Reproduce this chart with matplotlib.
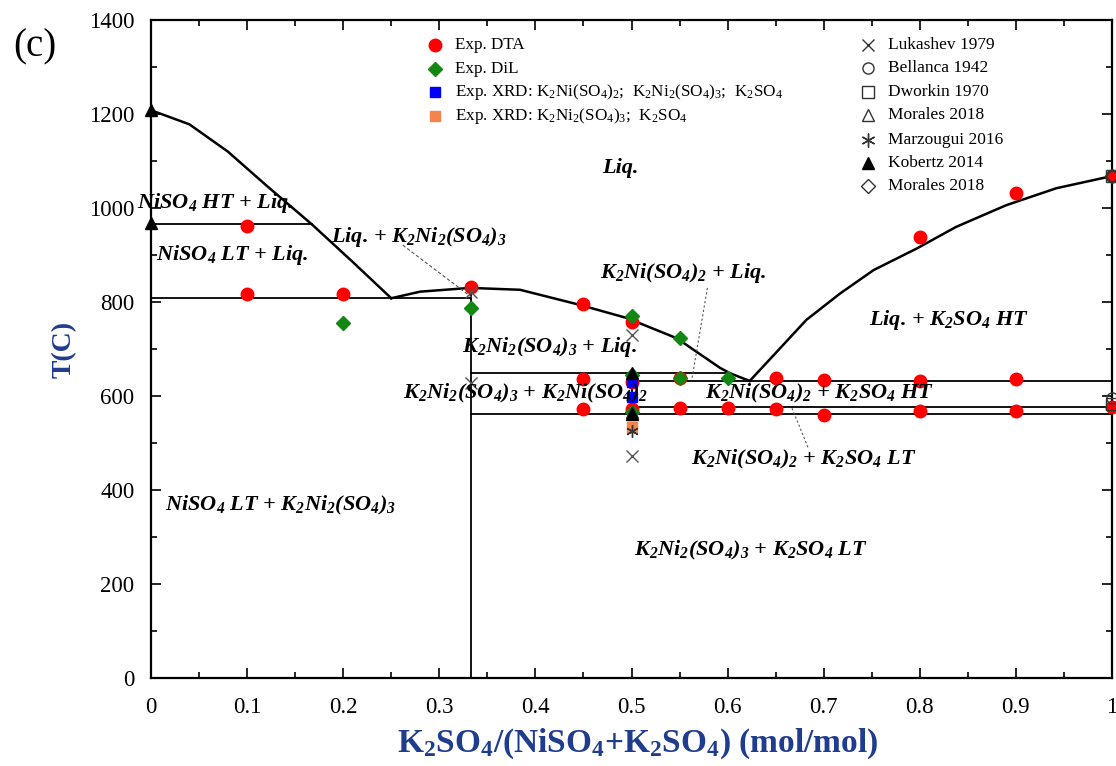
import matplotlib
matplotlib.use("Agg")
import matplotlib.pyplot as plt
from matplotlib.ticker import MultipleLocator

plt.rcParams['font.family'] = ['Liberation Serif', 'DejaVu Serif']
plt.rcParams['mathtext.fontset'] = 'custom'
plt.rcParams['mathtext.rm'] = 'Liberation Serif'
plt.rcParams['mathtext.it'] = 'Liberation Serif:italic'
plt.rcParams['mathtext.bf'] = 'Liberation Serif:bold'
plt.rcParams['mathtext.default'] = 'regular'

# ---------------- data ----------------
# calculated phase boundaries (liquidus curves)
liq_nis_x = [0.0, 0.04, 0.08, 0.12, 0.1675, 0.21, 0.25]
liq_nis_T = [1208, 1178, 1120, 1048, 965, 885, 808]
liq_mid_x = [0.25, 0.28, 0.332, 0.384, 0.446, 0.495, 0.547, 0.592, 0.603, 0.623]
liq_mid_T = [808, 822, 830, 826, 794, 766, 723, 660, 648, 632]
liq_k2_x = [0.623, 0.648, 0.682, 0.717, 0.752, 0.797, 0.838, 0.890, 0.942, 1.0]
liq_k2_T = [632, 687, 762, 818, 868, 914, 960, 1006, 1042, 1068]

# invariant / transition lines
hlines_x0 = [0.0, 0.0, 1/3, 0.5, 0.5, 1/3]
hlines_x1 = [0.1675, 1/3, 0.603, 1.0, 1.0, 1.0]
hlines_T = [965, 808, 648, 632, 577, 562]
# vertical compound lines
vlines_x = [1/3, 0.5]
vlines_T0 = [0, 562]
vlines_T1 = [830, 648]

# experimental points
dta_x = [0.1, 0.1, 0.2, 1/3, 0.45, 0.45, 0.45, 0.5, 0.5, 0.5, 0.55, 0.55, 0.6, 0.65, 0.65,
         0.7, 0.7, 0.8, 0.8, 0.8, 0.9, 0.9, 0.9, 1.0, 1.0]
dta_T = [962, 818, 818, 832, 796, 636, 573, 757, 630, 572, 638, 574, 574, 638, 572,
         634, 560, 938, 632, 568, 1031, 636, 568, 1068, 576]
dil_x = [0.2, 1/3, 0.5, 0.55, 0.5, 0.55, 0.6, 0.5]
dil_T = [755, 788, 770, 723, 645, 638, 638, 566]
xrd1_x = [0.5, 0.5]
xrd1_T = [630, 597]
xrd2_x = [0.5]
xrd2_T = [535]
lukashev_x = [1/3, 1/3, 0.5, 0.5]
lukashev_T = [822, 627, 730, 472]
bellanca_x = [1.0, 1.0]
bellanca_T = [1068, 596]
dworkin_x = [1.0, 1.0]
dworkin_T = [1068, 583]
morales_tri_x = [0.5]
morales_tri_T = [566]
marzougui_x = [0.5]
marzougui_T = [525]
kobertz_x = [0.0, 0.0, 0.5, 0.5]
kobertz_T = [1208, 968, 648, 562]
morales_dia_x = [1.0]
morales_dia_T = [1068]

x_ticks = [0, 0.1, 0.2, 0.3, 0.4, 0.5, 0.6, 0.7, 0.8, 0.9, 1]
x_ticklabels = ['0', '0.1', '0.2', '0.3', '0.4', '0.5', '0.6', '0.7', '0.8', '0.9', '1']
y_ticks = [0, 200, 400, 600, 800, 1000, 1200, 1400]

# ---------------- figure ----------------
fig = plt.figure(figsize=(11.16, 7.66), dpi=100)
ax = fig.add_axes([151 / 1116, 88 / 766, 961 / 1116, 658 / 766])

lc = 'black'
ax.plot(liq_nis_x, liq_nis_T, color=lc, lw=1.8, zorder=2)
ax.plot(liq_mid_x, liq_mid_T, color=lc, lw=1.8, zorder=2)
ax.plot(liq_k2_x, liq_k2_T, color=lc, lw=1.8, zorder=2)
for x0, x1, t in zip(hlines_x0, hlines_x1, hlines_T):
    ax.plot([x0, x1], [t, t], color=lc, lw=1.3, zorder=2)
for x, t0, t1 in zip(vlines_x, vlines_T0, vlines_T1):
    ax.plot([x, x], [t0, t1], color=lc, lw=1.3, zorder=2)

# leader lines
ax.plot([0.262, 0.335], [921, 808], color='#555555', lw=0.8, ls=(0, (3, 2)), zorder=2)
ax.plot([0.579, 0.563], [830, 638], color='#555555', lw=0.8, ls=(0, (2, 2)), zorder=2)
ax.plot([0.667, 0.684], [574, 489], color='#555555', lw=0.8, ls=(0, (2, 2)), zorder=2)

# markers
mk_common = dict(ls='none', clip_on=False)
ax.plot(dta_x, dta_T, marker='o', color='#ff0000', ms=9, zorder=3, **mk_common)
ax.plot(dil_x, dil_T, marker='D', color='#118811', ms=7.5, zorder=4, **mk_common)
ax.plot(xrd1_x, xrd1_T, marker='s', color='#0000ff', ms=7, zorder=5, **mk_common)
ax.plot(xrd2_x, xrd2_T, marker='s', color='#f4844c', ms=7, zorder=5, **mk_common)
ax.plot(lukashev_x, lukashev_T, marker='x', color='#555555', ms=9, mew=1.0, zorder=6, **mk_common)
ax.plot(bellanca_x, bellanca_T, marker='o', mfc='none', mec='#333333', ms=8, mew=1.0, zorder=6, **mk_common)
ax.plot(dworkin_x, dworkin_T, marker='s', mfc='none', mec='#333333', ms=8, mew=1.0, zorder=6, **mk_common)
ax.plot(morales_tri_x, morales_tri_T, marker='^', mfc='none', mec='#333333', ms=8, mew=1.0, zorder=6, **mk_common)
ax.plot(marzougui_x, marzougui_T, marker=(6, 2, 0), color='#333333', ms=9, mew=1.0, zorder=6, **mk_common)
ax.plot(kobertz_x, kobertz_T, marker='^', color='black', ms=9, zorder=6, **mk_common)
ax.plot(morales_dia_x, morales_dia_T, marker='D', mfc='none', mec='#333333', ms=7, mew=1.0, zorder=6, **mk_common)

# region labels
lab_kw = dict(fontsize=16, fontweight='bold', fontstyle='italic', ha='center', va='center', zorder=7)
labels = [
    ("Liq.", 0.488, 1085),
    (r"NiSO$_4$ HT + Liq.", 0.067, 1010),
    (r"NiSO$_4$ LT + Liq.", 0.085, 900),
    (r"Liq. + K$_2$Ni$_2$(SO$_4$)$_3$", 0.279, 938),
    (r"K$_2$Ni(SO$_4$)$_2$ + Liq.", 0.554, 862),
    (r"K$_2$Ni$_2$(SO$_4$)$_3$ + Liq.", 0.415, 704),
    (r"K$_2$Ni$_2$(SO$_4$)$_3$ + K$_2$Ni(SO$_4$)$_2$", 0.39, 606),
    (r"K$_2$Ni(SO$_4$)$_2$ + K$_2$SO$_4$ HT", 0.696, 606),
    (r"K$_2$Ni(SO$_4$)$_2$ + K$_2$SO$_4$ LT", 0.679, 464),
    (r"Liq. + K$_2$SO$_4$ HT", 0.830, 762),
    (r"NiSO$_4$ LT + K$_2$Ni$_2$(SO$_4$)$_3$", 0.135, 368),
    (r"K$_2$Ni$_2$(SO$_4$)$_3$ + K$_2$SO$_4$ LT", 0.624, 272),
]
for s, x, y in labels:
    ax.text(x, y, s, **lab_kw)

# legends (manual, axes coordinates)
def ax_xy(px, py):
    return (px - 151) / 961, (678 - py) / 658

leg1 = [
    (dict(marker='o', color='#ff0000', ms=9), "Exp. DTA", 45),
    (dict(marker='D', color='#118811', ms=7.5), "Exp. DiL", 69),
    (dict(marker='s', color='#0000ff', ms=7), r"Exp. XRD: K$_2$Ni(SO$_4$)$_2$;  K$_2$Ni$_2$(SO$_4$)$_3$;  K$_2$SO$_4$", 92),
    (dict(marker='s', color='#f4844c', ms=7), r"Exp. XRD: K$_2$Ni$_2$(SO$_4$)$_3$;  K$_2$SO$_4$", 116),
]
for mk, s, py in leg1:
    mx, my = ax_xy(435, py)
    tx, _ = ax_xy(455, py)
    ax.plot([mx], [my], transform=ax.transAxes, ls='none', **mk)
    ax.text(tx, my, s, transform=ax.transAxes, fontsize=12.3, va='center', ha='left')

leg2 = [
    (dict(marker='x', color='#333333', ms=9, mew=1.0), "Lukashev 1979", 45),
    (dict(marker='o', mfc='none', mec='#333333', ms=8, mew=1.0), "Bellanca 1942", 68),
    (dict(marker='s', mfc='none', mec='#333333', ms=8, mew=1.0), "Dworkin 1970", 92),
    (dict(marker='^', mfc='none', mec='#333333', ms=9, mew=1.0), "Morales 2018", 115),
    (dict(marker=(6, 2, 0), color='#333333', ms=10, mew=1.0), "Marzougui 2016", 140),
    (dict(marker='^', color='black', ms=9), "Kobertz 2014", 163),
    (dict(marker='D', mfc='none', mec='#333333', ms=7, mew=1.0), "Morales 2018", 186),
]
for mk, s, py in leg2:
    mx, my = ax_xy(868, py)
    tx, _ = ax_xy(888, py)
    ax.plot([mx], [my], transform=ax.transAxes, ls='none', **mk)
    ax.text(tx, my, s, transform=ax.transAxes, fontsize=12.5, va='center', ha='left')

# axes
ax.set_xlim(0, 1)
ax.set_ylim(0, 1400)
ax.set_xticks(x_ticks)
ax.set_xticklabels(x_ticklabels)
ax.set_yticks(y_ticks)
ax.xaxis.set_minor_locator(MultipleLocator(0.05))
ax.yaxis.set_minor_locator(MultipleLocator(100))
ax.tick_params(which='both', direction='in', top=True, right=True, labelsize=16.5, width=1.2)
ax.tick_params(which='major', length=7)
ax.tick_params(axis='x', which='major', pad=14)
ax.tick_params(axis='y', which='major', pad=12)
ax.tick_params(which='minor', length=4)
for sp in ax.spines.values():
    sp.set_linewidth(1.6)

navy = '#1f3c8f'
ax.set_ylabel("T(C)", fontsize=20, fontweight='bold', color=navy, labelpad=9)
fig.text(638 / 1116, 1 - 744 / 766, r"K$_2$SO$_4$/(NiSO$_4$+K$_2$SO$_4$) (mol/mol)",
         fontsize=24, fontweight='bold', color=navy, ha='center', va='center')

fig.text(35 / 1116, 1 - 47 / 766, "(c)", fontsize=28, ha='center', va='center')

fig.savefig("out.png", dpi=100)
